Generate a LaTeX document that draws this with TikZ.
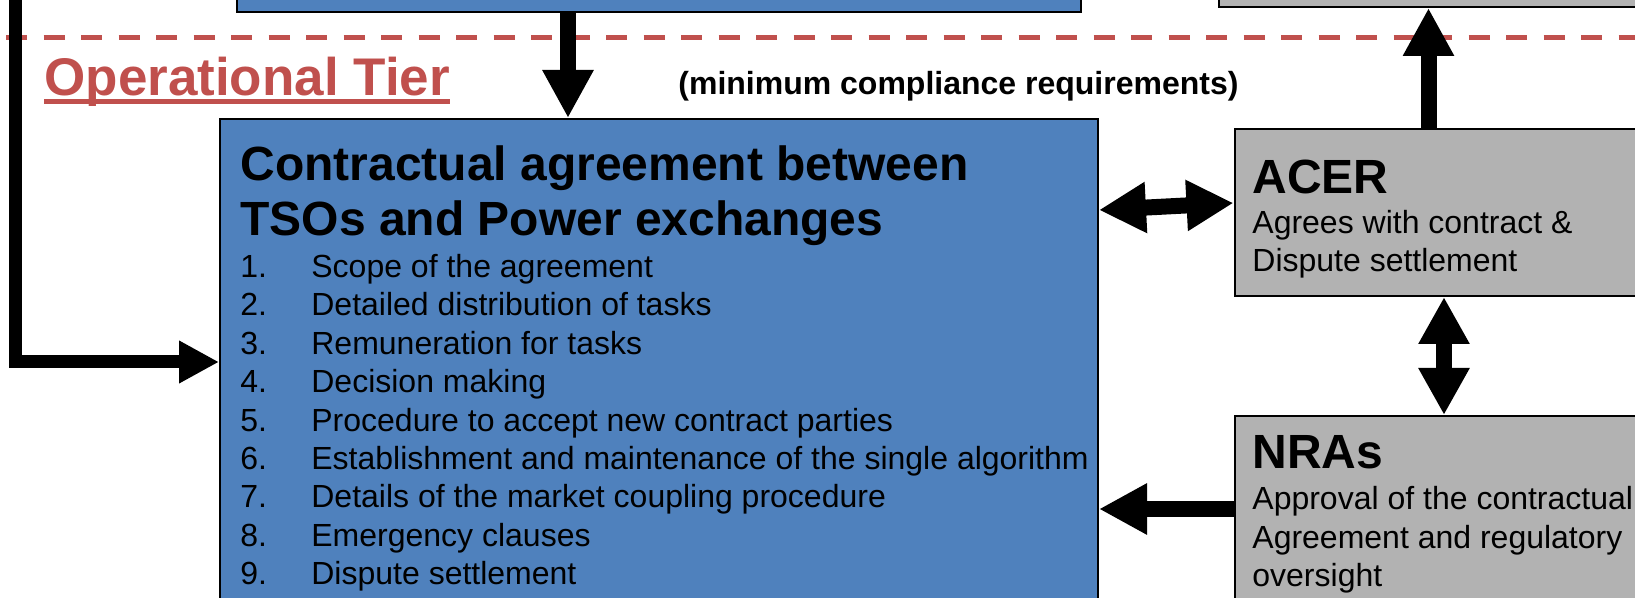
\documentclass[tikz,border=0pt]{standalone}
\usepackage{fontspec}
\setmainfont{Liberation Sans}
\usetikzlibrary{arrows.meta}
\definecolor{tier-red}{RGB}{192,80,77}
\definecolor{box-blue}{RGB}{79,129,189}
\definecolor{box-grey}{RGB}{178,178,178}
\tikzset{
    blue-box/.style = {draw=black, fill=box-blue, line width=1pt, rectangle, inner sep=0pt, anchor=north west},
    grey-box/.style = {draw=black, fill=box-grey, line width=1pt, rectangle, inner sep=0pt, anchor=north west},
    box-text/.style = {inner sep=0pt, anchor=base west, align=left, font=\fontsize{16}{19.2}\selectfont},
    box-title/.style = {inner sep=0pt, anchor=base west, align=left, font=\fontsize{24}{27.6}\selectfont\bfseries},
    fat-arrow/.style = {line width=8pt, -{Triangle[length=24pt,width=24pt]}},
    fat-double-arrow/.style = {line width=8pt, {Triangle[length=23.5pt,width=24pt]}-{Triangle[length=23.5pt,width=24pt]}},
    feed-arrow/.style = {line width=6.5pt, line join=miter, -{Triangle[length=20pt,width=20pt]}},
}

\begin{document}
\begin{tikzpicture}[x=0.5pt, y=-0.5pt]
\useasboundingbox (0,0) rectangle (1635,598);
\clip (0,0) rectangle (1635,598);
\node[blue-box, minimum width=422pt, minimum height=40pt, anchor=south west] (top-blue) at (236,13.5) {};
\node[grey-box, minimum width=250pt, minimum height=40pt, anchor=south west] (top-grey) at (1218,8) {};
\draw[tier-red, line width=2.5pt, dash pattern=on 10.5pt off 8.25pt] (6,37.5) -- (1640,37.5);
\node[inner sep=0pt, anchor=base west, text=tier-red, font=\fontsize{26.5}{30}\selectfont\bfseries] (op-tier) at (44,96) {Operational Tier};
\draw[tier-red, line width=2.5pt] ([yshift=-3pt]op-tier.base west) -- ([yshift=-3pt]op-tier.base east);
\node[box-text, font=\fontsize{16}{19.2}\selectfont\bfseries] (min-req) at (678,95) {(minimum compliance requirements)};

\node[blue-box, minimum width=439pt, minimum height=243pt] (contract) at (219,118) {};
\node[box-title] (contract-title) at (240,235.5) {Contractual agreement between\\TSOs and Power exchanges};
\node[box-text] (task-list) at (240,277.5) {\begin{tabular}[t]{@{}p{35.5pt}@{}l@{}}
1. & Scope of the agreement\\
2. & Detailed distribution of tasks\\
3. & Remuneration for tasks\\
4. & Decision making\\
5. & Procedure to accept new contract parties\\
6. & Establishment and maintenance of the single algorithm\\
7. & Details of the market coupling procedure\\
8. & Emergency clauses\\
9. & Dispute settlement
\end{tabular}};

\node[grey-box, minimum width=233pt, minimum height=83.5pt] (acer) at (1233.5,128) {};
\node[box-title] (acer-title) at (1252,194) {ACER};
\node[box-text] (acer-text) at (1252,272) {Agrees with contract \&\\Dispute settlement};

\node[grey-box, minimum width=233pt, minimum height=110pt] (nras) at (1233.5,415) {};
\node[box-title] (nras-title) at (1252,469) {NRAs};
\node[box-text] (nras-text) at (1252,586.8) {Approval of the contractual\\Agreement and regulatory\\oversight};

\coordinate (feed-top) at (15,-20);
\draw[feed-arrow] (feed-top) |- (contract.west);
\draw[fat-arrow] (top-blue.south -| 568,0) -- (contract.north -| 568,0);
\draw[fat-arrow] (acer.north -| 1428.5,0) -- (top-grey.south -| 1428.5,0);
\draw[fat-double-arrow] (contract.east |- 0,210) -- (acer.west |- 0,203);
\draw[fat-double-arrow] (acer.south -| 1444,0) -- (nras.north -| 1444,0);
\draw[fat-arrow] (nras.west |- 0,509) -- (contract.east |- 0,509);
\end{tikzpicture}
\end{document}
